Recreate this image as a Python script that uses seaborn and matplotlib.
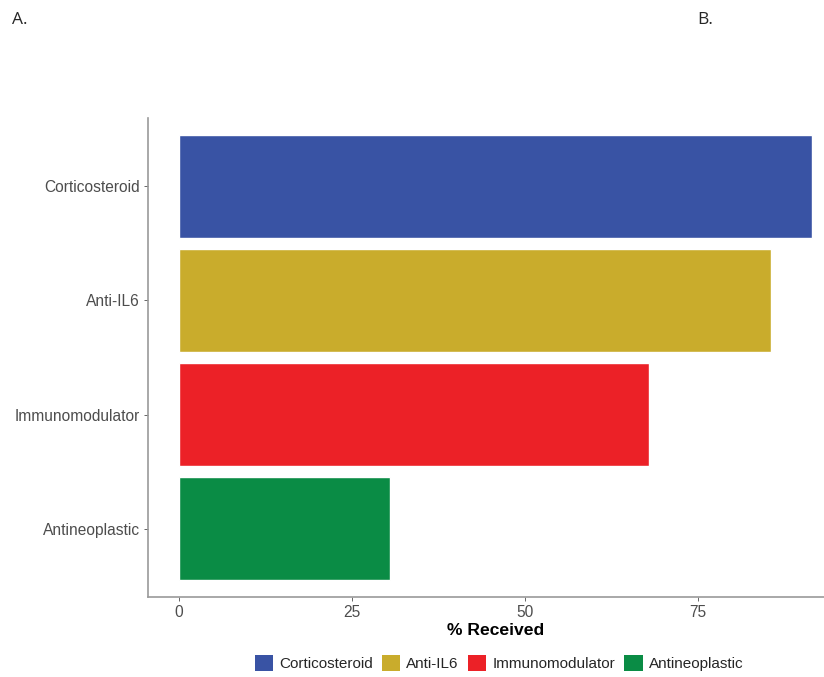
import pandas as pd
import matplotlib.pyplot as plt
import seaborn as sns
from matplotlib.patches import Patch

# data
drugs = ['Corticosteroid', 'Anti-IL6', 'Immunomodulator', 'Antineoplastic']
pct_received = [91.6, 85.7, 68.0, 30.5]
colors = ['#3953A4', '#C9AC2C', '#EC2127', '#0A8C45']
x_ticks = [0, 25, 50, 75]

df = pd.DataFrame({'drug': drugs, 'pct': pct_received})

sns.set_style('white')
plt.rcParams['font.family'] = ['Liberation Sans', 'DejaVu Sans']

fig = plt.figure(figsize=(8.24, 6.77), dpi=100)
W, H = 824, 677
ax = fig.add_axes([148 / W, 1 - 597 / H, (824 - 148) / W, (597 - 118) / H])

sns.barplot(data=df, x='pct', y='drug', hue='drug', order=drugs, hue_order=drugs,
            palette=colors, width=0.9, dodge=False, legend=False, saturation=1,
            orient='h', ax=ax)

ax.set_xlim(-4.5, 93.3)
ax.set_ylim(3.6, -0.6)
ax.set_xticks(x_ticks)
ax.set_xticklabels([str(t) for t in x_ticks])
ax.set_xlabel('% Received', fontsize=12.6, fontweight='bold', color='black')
# ggplot centres the title on the full panel, which runs past the crop
ax.xaxis.set_label_coords((496 - 148) / (824 - 148), -0.054)
ax.xaxis.label.set_va('top')
ax.set_ylabel('')
ax.tick_params(axis='both', labelsize=11.2, labelcolor='#4D4D4D', color='#4D4D4D',
               length=3, width=0.6, left=True, bottom=True, pad=3)

for s in ['top', 'right']:
    ax.spines[s].set_visible(False)
for s in ['left', 'bottom']:
    ax.spines[s].set_color('#9A9A9A')
    ax.spines[s].set_linewidth(1.2)

handles = [Patch(facecolor=c, edgecolor='none') for c in colors]
fig.legend(handles, drugs, loc='center', bbox_to_anchor=(499 / W, 1 - 663 / H),
           ncol=4, frameon=False, fontsize=11, handlelength=1.2, handleheight=1.2,
           handletextpad=0.4, columnspacing=0.6, borderaxespad=0)

fig.text(12 / W, 1 - 20 / H, 'A.', fontsize=12.5, va='center', ha='left', family=['Open Sans', 'DejaVu Sans'])
fig.text(697 / W, 1 - 20 / H, 'B.', fontsize=12.5, va='center', ha='left', family=['Open Sans', 'DejaVu Sans'])

fig.savefig('out.png', dpi=100)
